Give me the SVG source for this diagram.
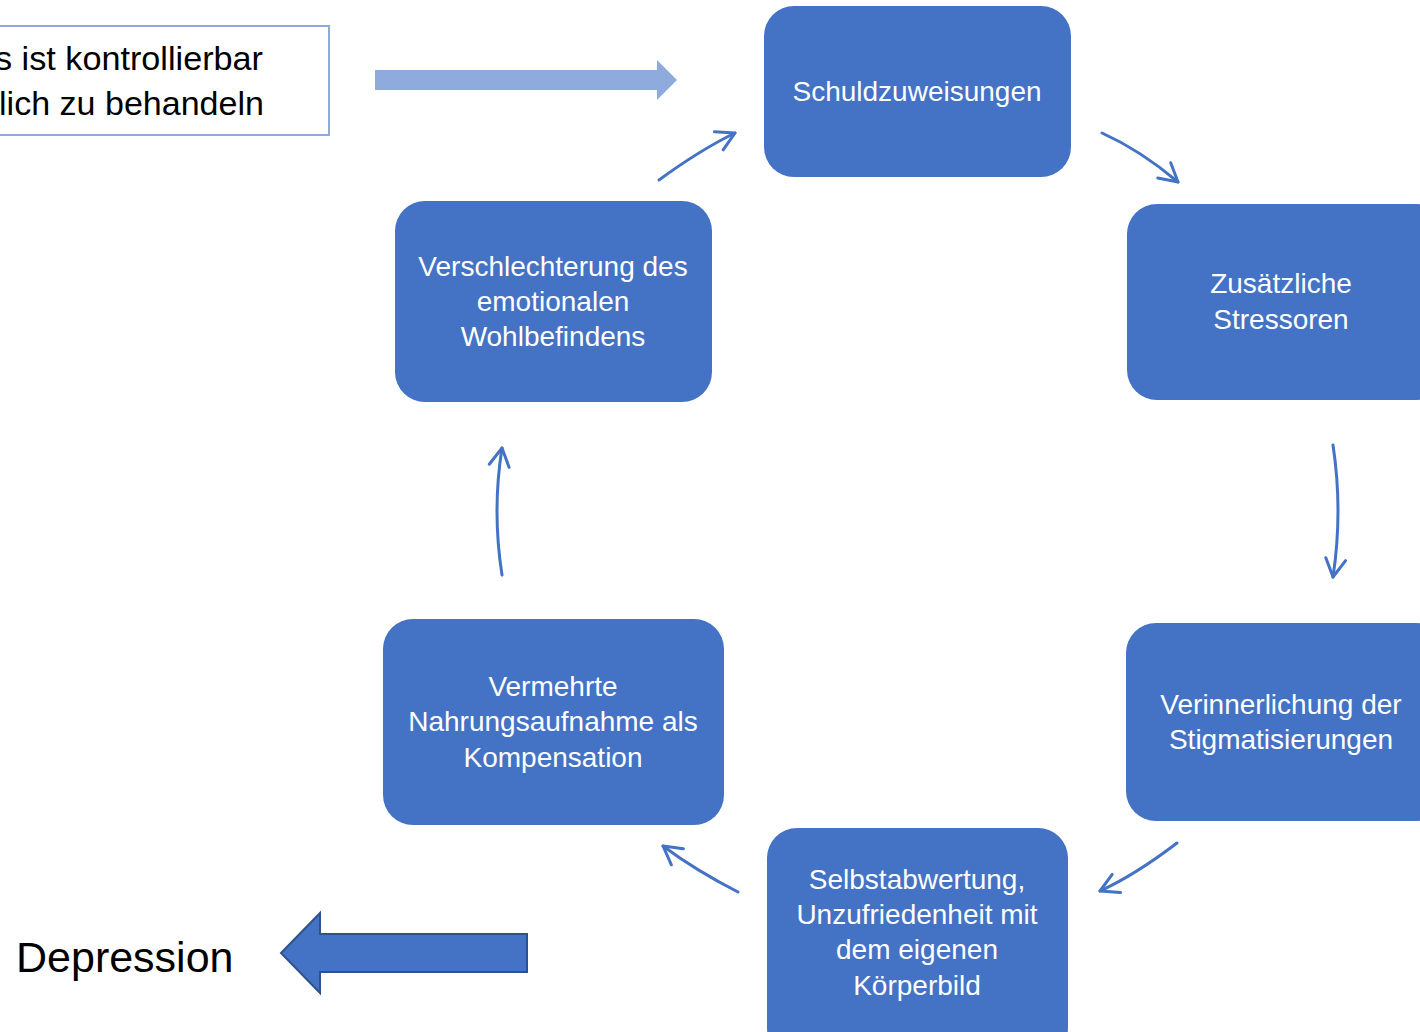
<svg xmlns="http://www.w3.org/2000/svg" width="1420" height="1032" viewBox="0 0 1420 1032">
<style>
.node rect{fill:#4472C4;}
.node text{fill:#FFFFFF;font-family:"Liberation Sans",Arial,sans-serif;font-size:28px;text-anchor:middle;}
.conn path{fill:none;stroke:#4472C4;stroke-width:3;stroke-linecap:round;}
.dark{font-family:"Liberation Sans",Arial,sans-serif;fill:#000000;}
</style>
<defs>
<marker id="open" markerUnits="userSpaceOnUse" orient="auto" refX="0" refY="0" markerWidth="40" markerHeight="40" overflow="visible">
<path d="M -18,-10 L 0,0 L -18,10" fill="none" stroke="#4472C4" stroke-width="3" stroke-linecap="round" stroke-linejoin="round"/>
</marker>
</defs>
<rect width="1420" height="1032" fill="#FFFFFF"/>

<g id="statement">
<rect x="-4" y="26" width="333" height="109" fill="#FFFFFF" stroke="#8FAADC" stroke-width="2"/>
<text class="dark" x="263" y="70" font-size="33" text-anchor="end" textLength="268" lengthAdjust="spacingAndGlyphs">s ist kontrollierbar</text>
<text class="dark" x="264" y="115" font-size="33" text-anchor="end" textLength="265" lengthAdjust="spacingAndGlyphs">lich zu behandeln</text>
</g>

<g id="arrow-top">
<polygon points="375,70 657,70 657,60 677,80 657,100 657,90 375,90" fill="#8FAADC"/>
</g>

<g id="depression">
<text class="dark" x="16" y="972" font-size="43">Depression</text>
</g>
<g id="arrow-depression">
<polygon points="281,953 320,913 320,934 527,934 527,972 320,972 320,993" fill="#4472C4" stroke="#2F528F" stroke-width="2"/>
</g>

<g id="n1" class="node">
<rect x="764" y="6" width="307" height="171" rx="30"/>
<text x="917" y="101">Schuldzuweisungen</text>
</g>
<g id="n2" class="node">
<rect x="1127" y="204" width="320" height="196" rx="30"/>
<text x="1281" y="293">Zusätzliche</text>
<text x="1281" y="329">Stressoren</text>
</g>
<g id="n3" class="node">
<rect x="1126" y="623" width="320" height="198" rx="30"/>
<text x="1281" y="714">Verinnerlichung der</text>
<text x="1281" y="749">Stigmatisierungen</text>
</g>
<g id="n4" class="node">
<rect x="767" y="828" width="301" height="230" rx="30"/>
<text x="917" y="889">Selbstabwertung,</text>
<text x="917" y="924">Unzufriedenheit mit</text>
<text x="917" y="959">dem eigenen</text>
<text x="917" y="995">Körperbild</text>
</g>
<g id="n5" class="node">
<rect x="383" y="619" width="341" height="206" rx="30"/>
<text x="553" y="696">Vermehrte</text>
<text x="553" y="731">Nahrungsaufnahme als</text>
<text x="553" y="767">Kompensation</text>
</g>
<g id="n6" class="node">
<rect x="395" y="201" width="317" height="201" rx="30"/>
<text x="553" y="276">Verschlechterung des</text>
<text x="553" y="311">emotionalen</text>
<text x="553" y="346">Wohlbefindens</text>
</g>

<g id="connectors" class="conn">
<path d="M 659,180 Q 700,150 735,133" marker-end="url(#open)"/>
<path d="M 1102,133 Q 1140,150 1178,182" marker-end="url(#open)"/>
<path d="M 1333,445 Q 1343,511 1333,577" marker-end="url(#open)"/>
<path d="M 1177,843 Q 1135,875 1100,891" marker-end="url(#open)"/>
<path d="M 738,892 Q 695,870 663,846" marker-end="url(#open)"/>
<path d="M 502,575 Q 492,511 502,448" marker-end="url(#open)"/>
</g>
</svg>
